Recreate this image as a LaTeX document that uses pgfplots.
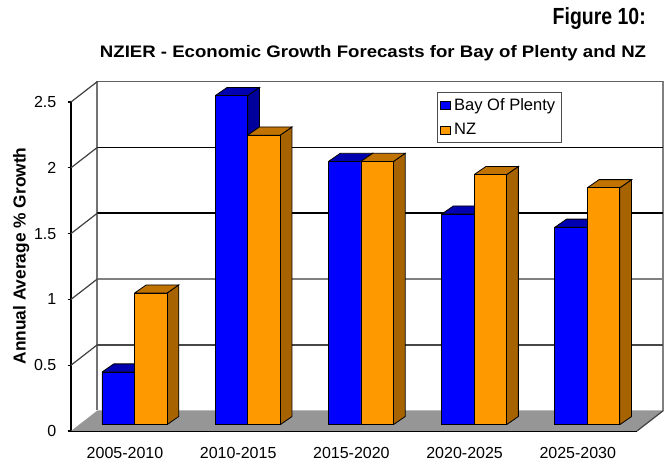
\documentclass[border=0pt]{standalone}
\usepackage{pgfplots}
\usepackage{pgfplotstable}
\usepackage{fontspec}
\pgfplotsset{compat=1.18}
\setmainfont{Liberation Sans}
\definecolor{blueF}{HTML}{0000FF}
\definecolor{blueT}{HTML}{0000B0}
\definecolor{blueS}{HTML}{00009C}
\definecolor{orF}{HTML}{FF9900}
\definecolor{orT}{HTML}{C07300}
\definecolor{orS}{HTML}{A66300}
\definecolor{floorc}{HTML}{969696}
\pgfplotstableread{
x     bop  nz
0.561 0.4  1.0
1.561 2.5  2.2
2.561 2.0  2.0
3.561 1.6  1.9
4.561 1.5  1.8
}\growth
% depth of bars in axis units, base offset of the bars in value units
\newcommand\DX{0.104}
\newcommand\DY{0.062}
\newcommand\BASE{0.048}
\newcommand\BW{0.287}
\newcommand\solid[4]{% left x, value, top colour, side colour
  \pgfmathsetmacro\xl{#1}
  \pgfmathsetmacro\xr{#1+\BW}
  \pgfmathsetmacro\xd{#1+\BW+\DX}
  \pgfmathsetmacro\xld{#1+\DX}
  \pgfmathsetmacro\yb{\BASE}
  \pgfmathsetmacro\yt{#2+\BASE}
  \pgfmathsetmacro\ybd{\BASE+\DY}
  \pgfmathsetmacro\ytd{#2+\BASE+\DY}
  \edef\temp{\noexpand\addplot[fill=#4,draw=black,line width=0.6pt,forget plot] coordinates {(\xr,\yb) (\xd,\ybd) (\xd,\ytd) (\xr,\yt) (\xr,\yb)};
  \noexpand\addplot[fill=#3,draw=black,line width=0.6pt,forget plot] coordinates {(\xl,\yt) (\xr,\yt) (\xd,\ytd) (\xld,\ytd) (\xl,\yt)};}
  \temp
}
\begin{document}
\begin{tikzpicture}
\path[use as bounding box] (-53.25pt,-26.25pt) rectangle ++(504pt,349.5pt);
\begin{axis}[
  scale only axis, width=424.5pt, height=246.75pt,
  xmin=0, xmax=5, ymin=0, ymax=2.5, clip=false,
  axis x line*=bottom, axis y line*=left,
  axis line style={black, line width=1pt},
  y axis line style={line width=1.4pt},
  tick align=outside, major tick length=2.5pt,
  tick style={black, line width=0.8pt},
  xtick={0.477,1.477,2.477,3.477,4.477},
  xticklabels={2005-2010,2010-2015,2015-2020,2020-2025,2025-2030},
  x tick style={draw=none},
  extra x ticks={0,1,2,3,4,5},
  extra x tick labels={},
  extra x tick style={tick style={black, line width=0.8pt}},
  ytick={0,0.5,1,1.5,2,2.5},
  yticklabels={0,0.5,1,1.5,2,2.5},
  tick label style={font=\fontsize{12}{14}\selectfont},
  xticklabel style={yshift=-6pt},
  yticklabel style={xshift=-5pt},
  ylabel={\textbf{Annual Average \% Growth}},
  ylabel style={font=\fontsize{13}{15}\selectfont, at={(axis description cs:-0.088,0.532)}, anchor=center},
  legend style={at={(0.646,1.0295)}, anchor=north west, draw=black!70, line width=0.7pt,
    font=\fontsize{12.4}{14}\selectfont, legend cell align=left, row sep=4pt, inner xsep=2.5pt, inner ysep=2.5pt,
    nodes={inner xsep=2.2pt}},
  legend image code/.code={\draw[#1, line width=0.6pt] (0pt,-3pt) rectangle (7.5pt,3pt);},
]
% floor
\addplot[fill=floorc, draw=none, forget plot] coordinates {(0,0) (5,0) (5.234,0.156) (0.234,0.156) (0,0)};
% back wall and its gridlines
\addplot[draw=black!55, line width=1.5pt, forget plot] coordinates {(0.234,0.156) (0.234,2.656)};
\addplot[draw=black!50, line width=1.5pt, forget plot] coordinates {(5.234,0.156) (5.234,2.656)};
\addplot[draw=black!62, line width=1.4pt, forget plot] coordinates {(0.234,2.656) (5.234,2.656)};
\addplot[draw=black, line width=1.1pt, forget plot] coordinates {(0.234,2.156) (5.234,2.156)};
\addplot[draw=black, line width=1.1pt, forget plot] coordinates {(0.234,1.656) (5.234,1.656)};
\addplot[draw=black!50, line width=1.4pt, forget plot] coordinates {(0.234,1.156) (5.234,1.156)};
\addplot[draw=black!72, line width=1.4pt, forget plot] coordinates {(0.234,0.656) (5.234,0.656)};
% side wall gridlines
\addplot[draw=black!75, line width=0.9pt, forget plot] coordinates {(0,2.5) (0.234,2.656)};
\addplot[draw=black!75, line width=0.9pt, forget plot] coordinates {(0,2) (0.234,2.156)};
\addplot[draw=black!75, line width=0.9pt, forget plot] coordinates {(0,1.5) (0.234,1.656)};
\addplot[draw=black!75, line width=0.9pt, forget plot] coordinates {(0,1) (0.234,1.156)};
\addplot[draw=black!75, line width=0.9pt, forget plot] coordinates {(0,0.5) (0.234,0.656)};
\addplot[draw=black!75, line width=0.9pt, forget plot] coordinates {(5,0) (5.234,0.156)};
% blue bars
\pgfplotsinvokeforeach{0,1,2,3,4}{
  \pgfplotstablegetelem{#1}{bop}\of\growth
  \let\val\pgfplotsretval
  \solid{#1+0.274}{\val}{blueT}{blueS}
}
\addplot[ybar, bar width=24.4pt, bar shift=-12.2pt, yshift=4.725pt, fill=blueF, draw=black, line width=0.6pt, forget plot]
  table[x=x, y=bop] {\growth};
% orange bars
\pgfplotsinvokeforeach{0,1,2,3,4}{
  \pgfplotstablegetelem{#1}{nz}\of\growth
  \let\val\pgfplotsretval
  \solid{#1+0.561}{\val}{orT}{orS}
}
\addplot[ybar, bar width=24.4pt, bar shift=12.2pt, yshift=4.725pt, fill=orF, draw=black, line width=0.6pt, forget plot]
  table[x=x, y=nz] {\growth};
\addlegendimage{fill=blueF, draw=black}
\addlegendentry{Bay Of Plenty}
\addlegendimage{fill=orF, draw=black}
\addlegendentry{NZ}
\node[anchor=base east, inner sep=0pt, font=\fontsize{17.5}{20}\selectfont\bfseries] at (axis description cs:1.016,1.237) {\scalebox{0.835}[1]{Figure 10:}};
\node[anchor=base, inner sep=0pt, font=\fontsize{12.5}{15}\selectfont\bfseries] at (axis description cs:0.5336,1.134) {\scalebox{1.117}[1]{NZIER - Economic Growth Forecasts for Bay of Plenty and NZ}};
\end{axis}
\end{tikzpicture}
\end{document}
